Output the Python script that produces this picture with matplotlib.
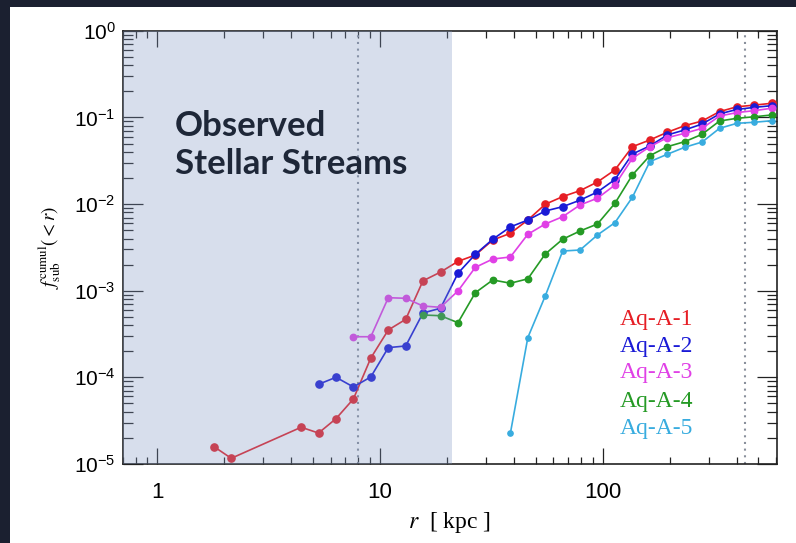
import numpy as np
import matplotlib
matplotlib.use('Agg')
import matplotlib.pyplot as plt
from matplotlib.ticker import LogLocator, NullFormatter, FixedLocator, FixedFormatter
from matplotlib.patches import Rectangle

# ---------------- data ----------------
r_bins = [1.80, 2.15, 2.58, 3.09, 3.70, 4.43, 5.30, 6.35, 7.60, 9.10, 10.9,
          13.05, 15.6, 18.7, 22.4, 26.8, 32.1, 38.5, 46.1, 55.2, 66.1, 79.1,
          94.7, 113.4, 135.9, 162.7, 194.8, 233.3, 279.4, 334.5, 400.6, 479.7, 574.4]
nan = np.nan
f_aq1 = [1.58e-5, 1.16e-5, nan, nan, nan, 2.65e-5, 2.27e-5, 3.33e-5, 5.62e-5, 1.67e-4,
         3.52e-4, 4.67e-4, 1.30e-3, 1.64e-3, 2.18e-3, 2.58e-3, 3.85e-3, 4.60e-3, 6.55e-3,
         9.95e-3, 1.22e-2, 1.43e-2, 1.80e-2, 2.48e-2, 4.60e-2, 5.50e-2, 6.75e-2, 8.04e-2,
         9.11e-2, 0.117, 0.133, 0.139, 0.146]
f_aq2 = [nan, nan, nan, nan, nan, nan, 8.30e-5, 1.00e-4, 7.73e-5, 1.01e-4, 2.20e-4,
         2.30e-4, 5.53e-4, 6.27e-4, 1.59e-3, 2.63e-3, 3.93e-3, 5.45e-3, 6.55e-3, 8.32e-3,
         9.33e-3, 1.11e-2, 1.38e-2, 1.92e-2, 3.79e-2, 4.69e-2, 6.28e-2, 7.18e-2, 8.41e-2,
         0.110, 0.124, 0.131, 0.137]
f_aq3 = [nan, nan, nan, nan, nan, nan, nan, nan, 2.94e-4, 2.94e-4, 8.30e-4, 8.17e-4,
         6.65e-4, 6.43e-4, 9.93e-4, 1.86e-3, 2.32e-3, 2.45e-3, 4.48e-3, 5.89e-3, 7.15e-3,
         9.77e-3, 1.17e-2, 1.66e-2, 3.38e-2, 4.60e-2, 5.85e-2, 6.57e-2, 7.50e-2, 0.104,
         0.114, 0.120, 0.128]
f_aq4 = [nan, nan, nan, nan, nan, nan, nan, nan, nan, nan, nan, nan, 5.24e-4, 5.14e-4,
         4.27e-4, 9.48e-4, 1.33e-3, 1.22e-3, 1.37e-3, 2.65e-3, 3.93e-3, 4.89e-3, 5.89e-3,
         1.02e-2, 2.17e-2, 3.62e-2, 4.60e-2, 5.26e-2, 6.40e-2, 9.11e-2, 9.79e-2, 0.102, 0.107]
f_aq5 = [nan, nan, nan, nan, nan, nan, nan, nan, nan, nan, nan, nan, nan, nan, nan, nan,
         nan, 2.26e-5, 2.87e-4, 8.69e-4, 2.87e-3, 2.95e-3, 4.40e-3, 6.10e-3, 1.20e-2,
         3.09e-2, 3.76e-2, 4.53e-2, 5.21e-2, 7.50e-2, 8.57e-2, 8.81e-2, 9.18e-2]

series_names = ['Aq-A-1', 'Aq-A-2', 'Aq-A-3', 'Aq-A-4', 'Aq-A-5']
series_vals = [f_aq1, f_aq2, f_aq3, f_aq4, f_aq5]
series_colors = ['#e61e25', '#1a1ad6', '#e040e6', '#259a25', '#38acdf']
marker_sizes = [5.2, 5.2, 4.6, 4.6, 3.8]

x_ticks = [1, 10, 100]
x_tick_labels = ['1', '10', '100']
y_ticks = [1e0, 1e-1, 1e-2, 1e-3, 1e-4, 1e-5]
y_tick_labels = ['$10^{0}$', '$10^{-1}$', '$10^{-2}$', '$10^{-3}$', '$10^{-4}$', '$10^{-5}$']

r_solar = 8.0
r_virial = 435.0
r_streams = 21.0

# ---------------- style ----------------
plt.rcParams['font.family'] = ['Liberation Sans', 'DejaVu Sans']
plt.rcParams['mathtext.fontset'] = 'custom'
plt.rcParams['mathtext.rm'] = 'Liberation Sans'
plt.rcParams['mathtext.it'] = 'Liberation Sans:italic'
plt.rcParams['mathtext.bf'] = 'Liberation Sans:bold'

fig = plt.figure(figsize=(7.96, 5.43), dpi=100, facecolor='#1b2030')
fig.patches.append(Rectangle((10 / 796, 0), 1 - 10 / 796, 1 - 7 / 543,
                             transform=fig.transFigure, facecolor='white',
                             edgecolor='none', zorder=-10))
ax = fig.add_axes([0.1541, 0.1457, 0.8217, 0.7974])
ax.set_facecolor('white')
ax.set_xscale('log')
ax.set_yscale('log')
ax.set_xlim(0.7, 604)
ax.set_ylim(1e-5, 1)

r_arr = np.array(r_bins)
for name, vals, col, ms in zip(series_names, series_vals, series_colors, marker_sizes):
    v = np.array(vals, dtype=float)
    m = ~np.isnan(v)
    ax.plot(r_arr[m], v[m], '-o', color=col, lw=1.2, ms=ms, mec=col, zorder=3)

for rv in (r_solar, r_virial):
    ax.axvline(rv, color='#8a909c', lw=1.5, ls=(0, (1, 2.2)), zorder=2)

# shaded region overlay
ax.axvspan(0.7, r_streams, facecolor='#7f96c2', alpha=0.31, lw=0, zorder=10)

ax.text(0.080, 0.817, 'Observed\nStellar Streams', transform=ax.transAxes,
        fontsize=25, fontweight='bold', family=['Lato', 'DejaVu Sans'],
        color='#1e2738', va='top', ha='left', linespacing=1.22, zorder=11)

legend_y = [0.3208, 0.2592, 0.1984, 0.1321, 0.0691]
for name, col, yy in zip(series_names, series_colors, legend_y):
    ax.text(0.7604, yy, name, transform=ax.transAxes, color=col, fontsize=17,
            family=['Liberation Serif', 'DejaVu Serif'], va='baseline', ha='left')

# ticks
ax.xaxis.set_major_locator(FixedLocator(x_ticks))
ax.xaxis.set_major_formatter(FixedFormatter(x_tick_labels))
ax.xaxis.set_minor_locator(LogLocator(base=10, subs=np.arange(2, 10), numticks=20))
ax.xaxis.set_minor_formatter(NullFormatter())
ax.yaxis.set_major_locator(FixedLocator(y_ticks))
ax.yaxis.set_major_formatter(FixedFormatter(y_tick_labels))
ax.yaxis.set_minor_locator(LogLocator(base=10, subs=np.arange(2, 10), numticks=20))
ax.yaxis.set_minor_formatter(NullFormatter())

ax.tick_params(axis='both', which='both', direction='in', top=True, right=True,
               width=0.9, color='#222222')
ax.tick_params(axis='x', which='major', length=11.5, pad=13, labelsize=16)
ax.tick_params(axis='x', which='minor', length=4.8)
ax.tick_params(axis='y', which='major', length=14.4, pad=5, labelsize=15)
ax.tick_params(axis='y', which='minor', length=7.2)
for s in ax.spines.values():
    s.set_linewidth(1.2)
    s.set_color('#222222')

ax.set_xlabel(r'$r$  [ kpc ]', fontsize=17, family=['Liberation Serif'],
              math_fontfamily='stix', labelpad=5)
ax.set_ylabel(r'$f_{\rm sub}^{\rm cumul}(<r)$', fontsize=13.5, math_fontfamily='stix',
              labelpad=8)

fig.savefig('out.png', dpi=100, facecolor=fig.get_facecolor())
